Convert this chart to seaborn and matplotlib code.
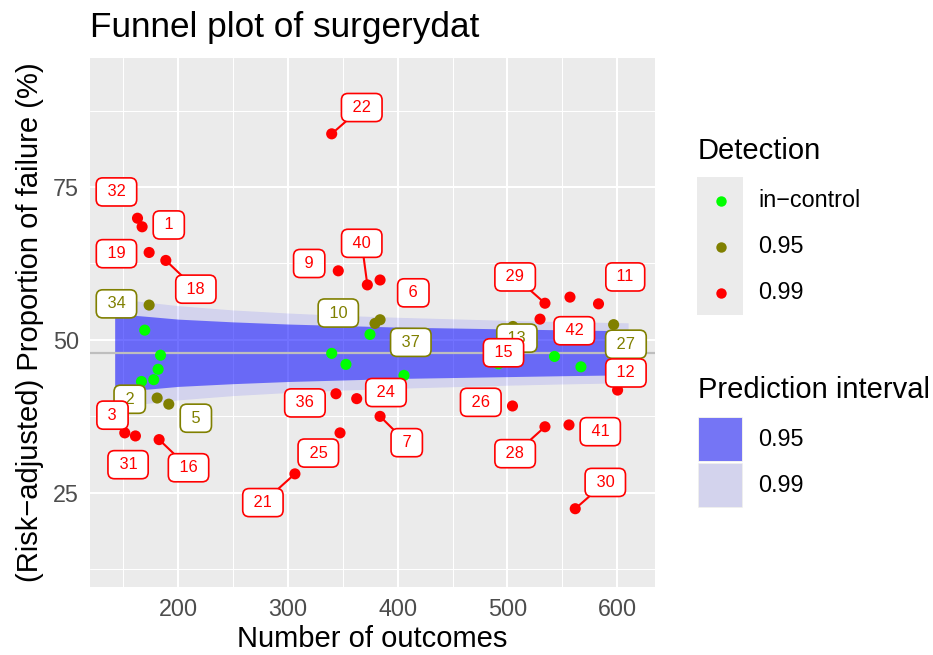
import matplotlib.pyplot as plt
import matplotlib.patches as mpatches
import numpy as np
import pandas as pd
import seaborn as sns

# funnel centre line and prediction limits (%)
centre = 47.9
band_n = [142, 175, 200, 250, 300, 350, 400, 450, 500, 550, 610]
hi99 = [56.8, 56.1, 55.6, 54.9, 54.4, 54.0, 53.7, 53.45, 53.2, 53.0, 52.8]
lo99 = [39.0, 39.7, 40.2, 40.9, 41.4, 41.8, 42.1, 42.35, 42.6, 42.8, 43.0]
hi95 = [54.3, 53.8, 53.4, 52.95, 52.6, 52.35, 52.1, 51.95, 51.8, 51.65, 51.5]
lo95 = [41.5, 42.0, 42.4, 42.85, 43.2, 43.45, 43.7, 43.85, 44.0, 44.15, 44.3]

# in-control units (not labelled)
inctrl_n = [169.4, 183.8, 181.6, 177.6, 166.4, 374.7, 339.8, 352.8, 405.7, 542.9, 567.0, 491.8]
inctrl_p = [51.6, 47.5, 45.2, 43.5, 43.2, 50.9, 47.8, 46.0, 44.2, 47.3, 45.6, 46.1]

# units signalled at 0.95 / 0.99
out_id = [34, 2, 5, 10, 37, 13, 27,
          32, 1, 19, 18, 3, 31, 16, 21, 25, 36, 24, 7, 22, 9, 40, 6,
          29, 42, 11, 15, 12, 26, 28, 41, 30]
out_level = ["0.95"] * 7 + ["0.99"] * 25
out_n = [173.4, 180.7, 191.3, 379.3, 383.9, 505.0, 596.8,
         162.8, 167.0, 173.4, 188.6, 151.2, 160.9, 182.5, 306.3, 347.4, 343.7, 362.6, 383.9,
         339.8, 345.8, 372.3, 383.9,
         534.2, 557.0, 583.0, 529.7, 600.4, 504.6, 534.2, 556.1, 561.8]
out_p = [55.7, 40.5, 39.5, 52.7, 53.3, 52.2, 52.5,
         69.9, 68.5, 64.3, 63.0, 34.8, 34.3, 33.7, 28.1, 34.8, 41.2, 40.4, 37.5,
         83.7, 61.3, 59.0, 59.8,
         56.0, 57.0, 55.9, 53.4, 41.8, 39.2, 35.8, 36.1, 22.4]

detect_levels = ["in\u2212control", "0.95", "0.99"]
detect_colors = ["#00FF00", "#808000", "#FF0000"]
interval_levels = ["0.95", "0.99"]
interval_alpha = [0.5, 0.1]

# repelled label placement (data units) and whether a leader segment is drawn
lab_n = [143.6, 155.7, 216.0, 345.8, 411.9, 508.6, 608.0,
         143.6, 191.3, 143.6, 216.0, 140.0, 154.2, 209.3, 277.1, 327.6, 315.4, 389.3, 408.2,
         367.2, 319.3, 367.2, 414.2,
         507.0, 560.9, 607.4, 496.4, 608.0, 475.7, 507.0, 584.6, 589.2]
lab_p = [55.9, 40.3, 37.2, 54.4, 49.6, 50.3, 49.3,
         74.2, 68.8, 64.1, 58.3, 37.7, 29.6, 29.1, 23.4, 31.5, 39.7, 41.4, 33.2,
         88.0, 62.5, 65.8, 57.7,
         60.3, 51.5, 60.3, 47.9, 44.6, 39.8, 31.4, 35.0, 26.7]
has_seg = [False] * 7 + [False, False, False, True, False, False, True, True, False, False, False, True,
                         True, False, True, False,
                         True, False, False, False, False, False, True, False, True]

palette = dict(zip(detect_levels, detect_colors))

sns.set_theme(style="darkgrid", rc={"axes.facecolor": "#EBEBEB", "grid.color": "white",
                                    "text.color": "black", "axes.labelcolor": "black"})
plt.rcParams["font.family"] = ["Liberation Sans", "DejaVu Sans"]

W, H = 933, 655
fig = plt.figure(figsize=(W / 100, H / 100), dpi=100)
ax = fig.add_axes([90 / W, 1 - 587 / H, 565 / W, 529 / H])

ax.fill_between(band_n, lo99, hi99, color="blue", alpha=0.1, lw=0, zorder=1)
ax.fill_between(band_n, lo95, hi95, color="blue", alpha=0.5, lw=0, zorder=1.1)
ax.axhline(centre, color="#BEBEBE", lw=1.6, zorder=1.5)

pts = pd.DataFrame({
    "n": inctrl_n + out_n,
    "p": inctrl_p + out_p,
    "Detection": [detect_levels[0]] * len(inctrl_n) + out_level,
})
sns.scatterplot(data=pts, x="n", y="p", hue="Detection", palette=palette, s=64,
                linewidth=0, legend=False, ax=ax, zorder=3)

for i, uid in enumerate(out_id):
    col = palette[out_level[i]]
    if has_seg[i]:
        ax.plot([out_n[i], lab_n[i]], [out_p[i], lab_p[i]], color=col, lw=1.5, zorder=4)
for i, uid in enumerate(out_id):
    col = palette[out_level[i]]
    ax.text(lab_n[i], lab_p[i], f" {uid} ", color=col, fontsize=11.8, ha="center", va="center",
            zorder=5, bbox=dict(boxstyle="round,pad=0.4,rounding_size=0.4", fc="white", ec=col, lw=1.2))

ax.set_xlim(119.5, 634.5)
ax.set_ylim(9.6, 96.1)
ax.set_xticks([200, 300, 400, 500, 600])
ax.set_xticks([150, 250, 350, 450, 550], minor=True)
ax.set_yticks([25, 50, 75])
ax.set_yticks([12.5, 37.5, 62.5, 87.5], minor=True)
ax.grid(which="major", color="white", lw=1.5)
ax.grid(which="minor", color="white", lw=0.75)
ax.tick_params(which="major", length=5, width=1.3, color="#333333", labelsize=16.8,
               labelcolor="#4D4D4D", pad=3)
ax.tick_params(which="minor", length=0)
for s in ax.spines.values():
    s.set_visible(False)
ax.set_xlabel("Number of outcomes", fontsize=21, labelpad=3)
ax.set_ylabel("(Risk\u2212adjusted) Proportion of failure (%)", fontsize=21, labelpad=6)

fig.text(90 / W, 1 - 27 / H, "Funnel plot of surgerydat", fontsize=25.3, ha="left", va="center")


def fpx(x, y):
    return x / W, 1 - y / H


# legend: Detection
fig.text(*fpx(698, 151), "Detection", fontsize=21, ha="left", va="center")
fig.patches.append(mpatches.Rectangle(fpx(697, 315), 46 / W, 138 / H, transform=fig.transFigure,
                                      fc="#EBEBEB", ec="none"))
for k, (lvl, col) in enumerate(zip(detect_levels, detect_colors)):
    yk = 200.5 + 46.2 * k
    fig.add_artist(plt.Line2D([720.5 / W], [1 - yk / H], marker="o", ms=7.5, color=col, mec="none",
                              transform=fig.transFigure))
    fig.text(*fpx(758, yk), lvl, fontsize=16.8, ha="left", va="center")

# legend: Prediction interval
fig.text(*fpx(698, 390), "Prediction interval", fontsize=21, ha="left", va="center")
for k, (lvl, a) in enumerate(zip(interval_levels, interval_alpha)):
    top = 416 + 46 * k
    fig.patches.append(mpatches.Rectangle(fpx(697, top + 46), 46 / W, 46 / H, transform=fig.transFigure,
                                          fc="#EBEBEB", ec="white", lw=1))
    fig.patches.append(mpatches.Rectangle(fpx(698.5, top + 44.5), 43 / W, 43 / H, transform=fig.transFigure,
                                          fc="blue", alpha=a, ec="none"))
    fig.text(*fpx(758, top + 23), lvl, fontsize=16.8, ha="left", va="center")

fig.savefig("out.png", dpi=100, facecolor="white")
